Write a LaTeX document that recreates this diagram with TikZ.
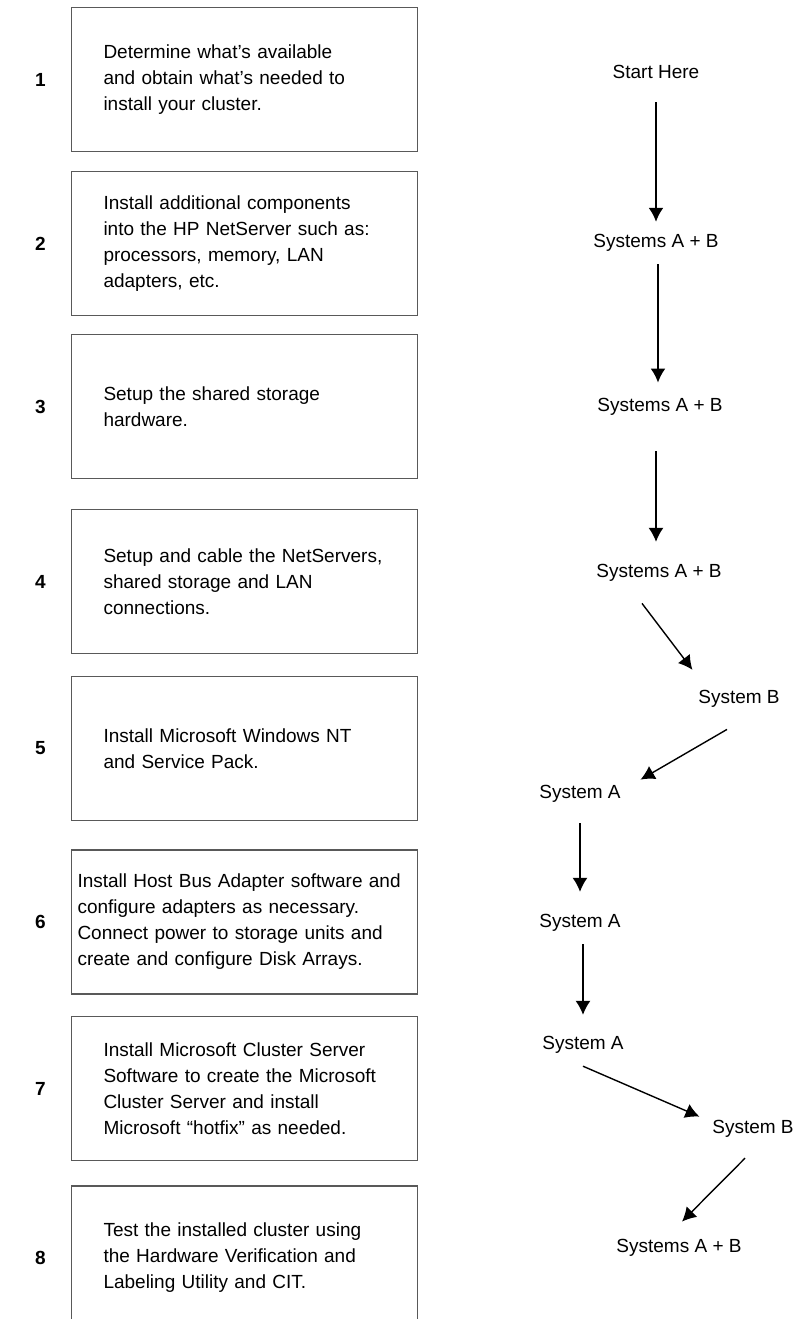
\documentclass[tikz,border=0pt]{standalone}
\usepackage{fontspec}
\setmainfont{Liberation Sans}
\usetikzlibrary{arrows.meta,positioning}
\tikzset{
block/.style = {draw=black!65, line width=0.8pt, rectangle, align=left, text width=141pt, inner xsep=16pt, minimum height=72pt, font=\fontsize{9.5pt}{13pt}\selectfont},
stepnum/.style = {font=\fontsize{9.5pt}{13pt}\selectfont\bfseries},
sysnode/.style = {inner sep=0pt, text height=6.8pt, text depth=0pt, font=\fontsize{9.5pt}{13pt}\selectfont},
flow/.style = {->, line width=0.7pt}
}
\begin{document}
\begin{tikzpicture}[auto, node distance=83pt, >={Latex[length=7pt,width=7.5pt]}]
    \useasboundingbox (0,0) rectangle (399pt,-659.5pt);

    \node [block] (b1) at (122.25pt,-39.75pt) {Determine what's available\\ and obtain what's needed to\\ install your cluster.};
    \node [block, below of = b1, node distance = 82pt] (b2) {Install additional components\\ into the HP NetServer such as:\\ processors, memory, LAN\\ adapters, etc.};
    \node [block, below of = b2, node distance = 81.5pt] (b3) {Setup the shared storage\\ hardware.};
    \node [block, below of = b3, node distance = 87.5pt] (b4) {Setup and cable the NetServers,\\ shared storage and LAN\\ connections.};
    \node [block, below of = b4, node distance = 83.5pt] (b5) {Install Microsoft Windows NT\\ and Service Pack.};
    \node [block, text width=167pt, inner xsep=3pt, below of = b5, node distance = 86.75pt] (b6) {Install Host Bus Adapter software and\\ configure adapters as necessary.\\ Connect power to storage units and\\ create and configure Disk Arrays.};
    \node [block, below of = b6, node distance = 83.25pt] (b7) {Install Microsoft Cluster Server\\ Software to create the Microsoft\\ Cluster Server and install\\ Microsoft ``hotfix'' as needed.};
    \node [block, below of = b7, node distance = 84.75pt] (b8) {Test the installed cluster using\\ the Hardware Verification and\\ Labeling Utility and CIT.};

    \node [stepnum, left of = b1, node distance = 102pt] (n1) {1};
    \node [stepnum, left of = b2, node distance = 102pt] (n2) {2};
    \node [stepnum, left of = b3, node distance = 102pt] (n3) {3};
    \node [stepnum, left of = b4, node distance = 102pt] (n4) {4};
    \node [stepnum, left of = b5, node distance = 102pt] (n5) {5};
    \node [stepnum, left of = b6, node distance = 102pt] (n6) {6};
    \node [stepnum, left of = b7, node distance = 102pt] (n7) {7};
    \node [stepnum, left of = b8, node distance = 102pt] (n8) {8};

    \node [sysnode] (start) at (328pt,-36pt) {Start Here};
    \node [sysnode, below of = start, node distance = 84.5pt] (sab1) {Systems A + B};
    \node [sysnode, below of = sab1, node distance = 82pt, xshift=2pt] (sab2) {Systems A + B};
    \node [sysnode, below of = sab2, node distance = 83pt, xshift=-0.5pt] (sab3) {Systems A + B};
    \node [sysnode, below of = sab3, node distance = 63pt, xshift=40pt] (sysb1) {System B};
    \node [sysnode, below of = sysb1, node distance = 47.5pt, xshift=-79.5pt] (sysa1) {System A};
    \node [sysnode, below of = sysa1, node distance = 64.5pt] (sysa2) {System A};
    \node [sysnode, below of = sysa2, node distance = 61pt, xshift=1.5pt] (sysa3) {System A};
    \node [sysnode, below of = sysa3, node distance = 42pt, xshift=85pt] (sysb2) {System B};
    \node [sysnode, below of = sysb2, node distance = 59.5pt, xshift=-37pt] (sab4) {Systems A + B};

    \draw [flow, line width=1pt, shorten <=11.6pt, shorten >=6pt] (start) -- (sab1);
    \draw [flow, line width=1pt] ([xshift=1pt,yshift=-8pt]sab1.south) -- ([xshift=-1pt,yshift=7.6pt]sab2.north);
    \draw [flow] ([xshift=-2pt,yshift=-19.6pt]sab2.south) -- ([xshift=-1.5pt,yshift=11pt]sab3.north);
    \draw [flow] ([xshift=-8.5pt,yshift=-12.6pt]sab3.south) -- ([xshift=-2.75pt,yshift=10pt]sysb1.north west);
    \draw [flow] ([xshift=-6pt,yshift=-12.6pt]sysb1.south) -- ([xshift=9.75pt,yshift=2.6pt]sysa1.north east);
    \draw [flow, shorten <=12pt, shorten >=11pt] (sysa1) -- (sysa2);
    \draw [flow] ([xshift=1.5pt,yshift=-8pt]sysa2.south) -- ([yshift=10.5pt]sysa3.north);
    \draw [flow] ([yshift=-8pt]sysa3.south) -- ([xshift=-6.25pt,yshift=1.6pt]sysb2.north west);
    \draw [flow] ([xshift=-4pt,yshift=-12pt]sysb2.south) -- ([xshift=1.5pt,yshift=8.6pt]sab4.north);
\end{tikzpicture}
\end{document}
